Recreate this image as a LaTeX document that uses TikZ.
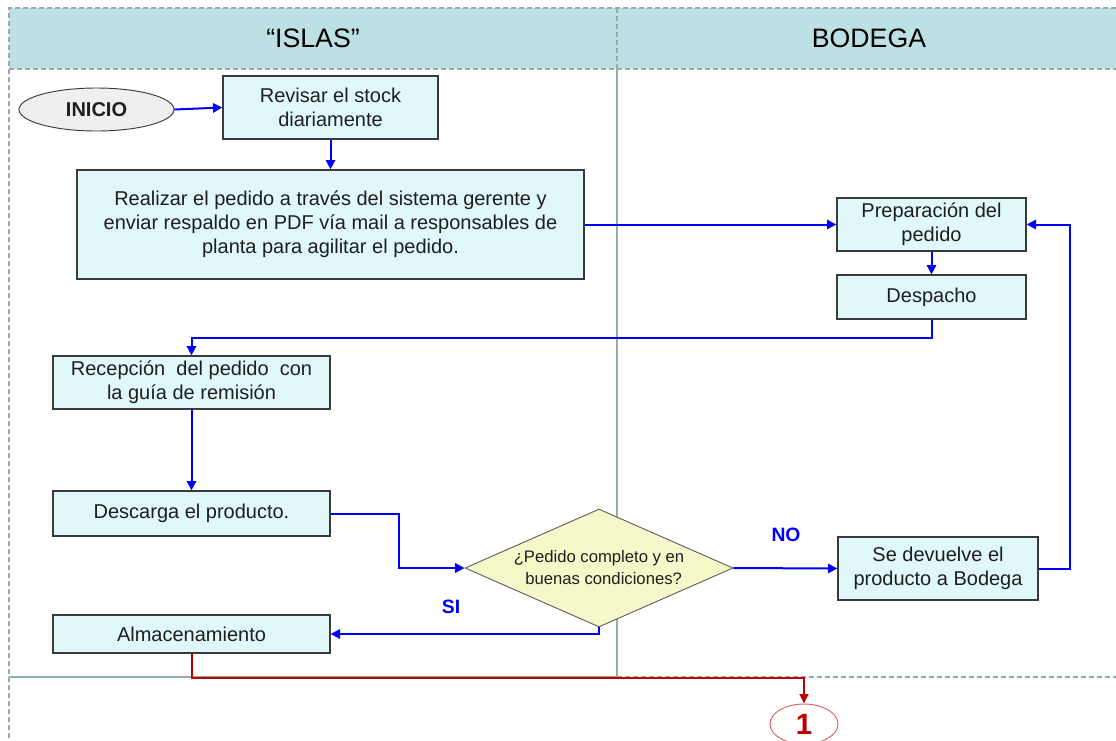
\documentclass[tikz,border=0pt]{standalone}
\usepackage{fontspec}
\setmainfont{Liberation Sans}
\usetikzlibrary{shapes.geometric,arrows.meta,shadows}

\definecolor{laneHead}{HTML}{BCE0E3}
\definecolor{laneLine}{HTML}{93ACAF}
\definecolor{boxFill}{HTML}{E1F8FB}
\definecolor{boxLine}{HTML}{3A3A3A}
\definecolor{decFill}{HTML}{F7F8C9}
\definecolor{startFill}{HTML}{EFEFEF}
\definecolor{txt}{HTML}{1E1E1E}
\definecolor{flowBlue}{HTML}{0000FF}
\definecolor{linkRed}{HTML}{C00000}
\definecolor{ovalRed}{HTML}{E06060}

\tikzset{
  proc/.style={draw=boxLine, fill=boxFill, line width=1pt, text=txt,
    align=center, inner sep=2pt,
    font=\fontsize{15}{18}\selectfont,
    drop shadow={shadow xshift=0.6pt, shadow yshift=-1pt, opacity=0.35, fill=gray}},
  startnode/.style={ellipse, draw=boxLine, fill=startFill, line width=0.7pt,
    text=txt, font=\bfseries\fontsize{15}{18}\selectfont, inner sep=0pt},
  decision/.style={diamond, draw=boxLine!80, fill=decFill, line width=0.7pt,
    text=txt, align=center, inner sep=0pt, shape aspect=2.27,
    font=\fontsize{12.5}{16.5}\selectfont},
  flow/.style={draw=flowBlue, line width=1.5pt,
    -{Triangle[length=7pt,width=7pt]}},
  link/.style={draw=linkRed, line width=1.5pt,
    -{Triangle[length=7pt,width=6.5pt]}},
  branchlabel/.style={text=flowBlue, font=\bfseries\fontsize{14.5}{17}\selectfont},
  lanetitle/.style={text=black, font=\fontsize{20}{24}\selectfont},
  laneborder/.style={draw=laneLine, line width=1.2pt},
  lanedash/.style={laneborder, dash pattern=on 4pt off 2pt},
}

\begin{document}
\begin{tikzpicture}[x=0.75pt, y=-0.75pt]
\useasboundingbox (0,0) rectangle (1116,740);

% swimlane header band
\fill[laneHead] (9,8) rectangle (1116,69);
\draw[lanedash] (1116,8) -- (9,8) -- (9,740);
\draw[lanedash] (9,69) -- (1116,69);
\draw[lanedash] (617,8) -- (617,69);
\draw[laneborder] (617,69) -- (617,677);
\draw[laneborder] (9,677) -- (617,677);
\draw[lanedash] (617,677) -- (1116,677);

\node[lanetitle] (islas) at (313,38) {“ISLAS”};
\node[lanetitle] (bodega) at (869,38) {BODEGA};

% process steps
\node[startnode, minimum width=116.25pt, minimum height=32.25pt] (inicio) at (96.5,109.5) {INICIO};
\node[proc, minimum width=161.25pt, minimum height=47.25pt] (revisar) at (330.5,107.5)
  {Revisar el stock\\diariamente};
\node[proc, minimum width=380.25pt, minimum height=81.75pt] (realizar) at (330.5,224.5)
  {Realizar el pedido a través del sistema gerente y\\enviar respaldo en PDF vía mail a responsables de\\planta para agilitar el pedido.};
\node[proc, minimum width=141.75pt, minimum height=39.75pt] (prep) at (931.5,224.5)
  {Preparación del\\pedido};
\node[proc, minimum width=141.75pt, minimum height=33pt] (despacho) at (931.5,297)
  {Despacho};
\node[proc, minimum width=207.75pt, minimum height=39.75pt] (recepcion) at (191.5,382.5)
  {Recepción\ \ del pedido\ \ con\\la guía de remisión};
\node[proc, minimum width=207.75pt, minimum height=33.75pt] (descarga) at (191.5,513.5)
  {Descarga el producto.};
\node[decision, minimum width=201pt, minimum height=88.5pt] (check) at (599,568)
  {¿Pedido completo y en\\\ \ buenas condiciones?};
\node[proc, minimum width=150pt, minimum height=47.25pt] (devuelve) at (938,568.5)
  {Se devuelve el\\producto a Bodega};
\node[proc, minimum width=207.75pt, minimum height=28.5pt] (almacen) at (191.5,634)
  {Almacenamiento};
\node[ellipse, draw=ovalRed, line width=0.7pt, minimum width=51pt, minimum height=30pt,
  inner sep=0pt, text=linkRed, font=\bfseries\fontsize{22}{24}\selectfont] (one) at (804,724) {1};

% connectors
\draw[flow] (inicio.east) -- (revisar.west);
\draw[flow] (revisar.south) -- (realizar.north);
\draw[flow] (realizar.east) -- (prep.west);
\draw[flow] (prep.south) -- (despacho.north);
\draw[flow] (despacho.south) -- ++(0,18) -| (recepcion.north);
\draw[flow] (recepcion.south) -- (descarga.north);
\draw[flow] (descarga.east) -- ++(68,0) |- (check.west);
\draw[flow] (check.east) -- (devuelve.west);
\draw[flow] (devuelve.east) -- ++(31,0) |- (prep.east);
\draw[flow] (check.south) |- (almacen.east);
\draw[link] (almacen.south) -- ++(0,24) -| (one.north);

% branch labels
\node[branchlabel] (lblno) at (786,535) {NO};
\node[branchlabel] (lblsi) at (451,607) {SI};
\end{tikzpicture}
\end{document}
